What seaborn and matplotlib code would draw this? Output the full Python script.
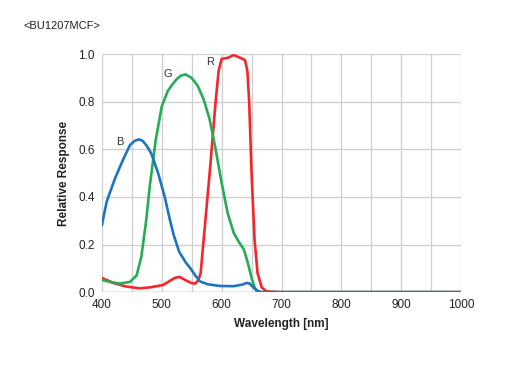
import numpy as np
import pandas as pd
import matplotlib
matplotlib.use("Agg")
import matplotlib.pyplot as plt
import seaborn as sns

blue_wl = [400, 408, 422, 436, 447, 455, 462, 468, 475, 483, 494, 505, 514, 520, 529, 540, 548, 556, 564, 577, 597, 620, 635, 642, 647, 653, 660, 666, 700, 800, 900, 1000]
blue_val = [0.28, 0.38, 0.478, 0.56, 0.618, 0.636, 0.642, 0.636, 0.615, 0.58, 0.50, 0.40, 0.30, 0.24, 0.17, 0.125, 0.10, 0.07, 0.045, 0.033, 0.026, 0.025, 0.032, 0.039, 0.036, 0.02, 0.006, 0.0, 0.0, 0.0, 0.0, 0.0]

green_wl = [400, 415, 430, 447, 458, 466, 474, 480, 490, 500, 510, 517, 525, 532, 540, 550, 560, 570, 580, 590, 600, 610, 620, 630, 637, 643, 650, 655, 659, 700, 800, 900, 1000]
green_val = [0.052, 0.042, 0.036, 0.043, 0.07, 0.15, 0.30, 0.445, 0.64, 0.78, 0.845, 0.87, 0.895, 0.91, 0.915, 0.90, 0.867, 0.81, 0.726, 0.60, 0.46, 0.333, 0.25, 0.206, 0.18, 0.13, 0.06, 0.02, 0.0, 0.0, 0.0, 0.0, 0.0]

red_wl = [400, 420, 440, 463, 480, 502, 512, 522, 530, 540, 550, 556, 561, 565, 570, 580, 590, 595, 600, 611, 620, 631, 639, 643, 646, 650, 655, 660, 667, 675, 700, 800, 900, 1000]
red_val = [0.06, 0.038, 0.024, 0.016, 0.02, 0.03, 0.045, 0.06, 0.064, 0.05, 0.038, 0.036, 0.05, 0.08, 0.22, 0.50, 0.80, 0.93, 0.98, 0.985, 0.996, 0.985, 0.975, 0.93, 0.80, 0.50, 0.22, 0.08, 0.02, 0.003, 0.0, 0.0, 0.0, 0.0]

x_ticks = [400, 500, 600, 700, 800, 900, 1000]
y_ticks = [0.0, 0.2, 0.4, 0.6, 0.8, 1.0]
title = "<BU1207MCF>"

df = pd.concat([
    pd.DataFrame({"wl": red_wl, "val": red_val, "ch": "R"}),
    pd.DataFrame({"wl": green_wl, "val": green_val, "ch": "G"}),
    pd.DataFrame({"wl": blue_wl, "val": blue_val, "ch": "B"}),
])

sns.set_theme(style="white")
plt.rcParams["font.family"] = ["Liberation Sans", "DejaVu Sans"]

fig = plt.figure(figsize=(5.17, 3.76), dpi=100)
ax = fig.add_axes([0.197, 0.223, 0.695, 0.633])

palette = {"R": "#f5262a", "G": "#25ac55", "B": "#1f74c0"}
sns.lineplot(data=df, x="wl", y="val", hue="ch", palette=palette, hue_order=["R", "G", "B"],
             linewidth=1.9, legend=False, ax=ax, zorder=3)
for ln in ax.lines:
    ln.set_solid_joinstyle("round")

ax.set_xlim(400, 1000)
ax.set_ylim(0, 1.0)
ax.set_xticks(np.arange(400, 1001, 50), minor=False)
ax.set_xticklabels([str(v) if v in x_ticks else "" for v in np.arange(400, 1001, 50)])
ax.set_yticks(y_ticks)
ax.set_yticklabels([f"{v:.1f}" for v in y_ticks])
ax.grid(True, color="#cfcfcf", linewidth=0.9, zorder=0)
for s in ax.spines.values():
    s.set_visible(False)
ax.axhline(0, color="#b0b0b0", linewidth=1.0, zorder=1)
ax.tick_params(axis="both", labelsize=8.5, length=0, pad=5, colors="#222222")
ax.set_xlabel("Wavelength [nm]", fontsize=8.5, fontweight="bold", color="#222222", labelpad=5)
ax.set_ylabel("Relative Response", fontsize=8.5, fontweight="bold", color="#222222", labelpad=6)

ax.text(430, 0.63, "B", fontsize=8, color="#333333", ha="center", va="center")
ax.text(510, 0.915, "G", fontsize=8, color="#333333", ha="center", va="center")
ax.text(580, 0.965, "R", fontsize=8, color="#333333", ha="center", va="center")

fig.text(23 / 517, 1 - 26 / 376, title, fontsize=8, color="#222222", ha="left", va="center")

fig.savefig("out.png", dpi=100, facecolor="white")
